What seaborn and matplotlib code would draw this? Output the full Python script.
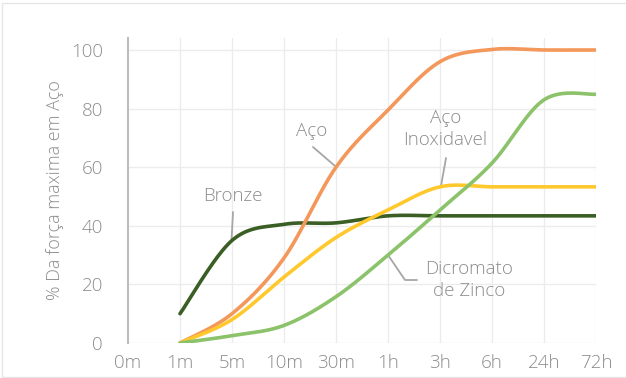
import numpy as np
import pandas as pd
import matplotlib
matplotlib.use("Agg")
import matplotlib.pyplot as plt
import seaborn as sns
from matplotlib.lines import Line2D
from matplotlib.patches import Rectangle

# Time categories on the x axis
tempos = ["0m", "1m", "5m", "10m", "30m", "1h", "3h", "6h", "24h", "72h"]

# % of maximum strength per coating (measured from 1m onward)
bronze = [10, 35, 40.5, 41, 43.4, 43.4, 43.4, 43.4, 43.4]
aco = [0, 10, 29, 60, 79.5, 96, 100.2, 100, 100]
aco_inox = [0, 8, 22.5, 36, 45.4, 53.3, 53.3, 53.3, 53.3]
dicromato = [0, 2.5, 6, 15.8, 30, 45.4, 61.4, 83, 84.9]

series = {
    "Bronze": bronze,
    "Aço": aco,
    "Aço Inoxidavel": aco_inox,
    "Dicromato de Zinco": dicromato,
}
cores = {
    "Bronze": "#3a5e24",
    "Aço": "#f4975a",
    "Aço Inoxidavel": "#ffc92e",
    "Dicromato de Zinco": "#8cc36a",
}


def suavizar(xs, ys, n=40):
    """Bezier smoothing through each point (control offsets of 1/6)."""
    p = np.column_stack([xs, ys]).astype(float)
    ext = np.vstack([p[0], p, p[-1]])
    t = np.linspace(0, 1, n)[:, None]
    out = []
    for i in range(1, len(ext) - 2):
        p0, p1, p2, p3 = ext[i - 1], ext[i], ext[i + 1], ext[i + 2]
        c1 = p1 + (p2 - p0) / 6.0
        c2 = p2 - (p3 - p1) / 6.0
        seg = ((1 - t) ** 3) * p1 + 3 * ((1 - t) ** 2) * t * c1 + 3 * (1 - t) * t ** 2 * c2 + t ** 3 * p2
        out.append(seg if i == 1 else seg[1:])
    return np.vstack(out)


linhas = []
for nome, vals in series.items():
    xs = np.arange(1, 1 + len(vals))
    curva = suavizar(xs, vals)
    linhas.append(pd.DataFrame({"x": curva[:, 0], "y": curva[:, 1], "serie": nome}))
df = pd.concat(linhas, ignore_index=True)

sns.set_theme(style="white")
plt.rcParams["font.family"] = ["Open Sans", "DejaVu Sans"]
plt.rcParams["font.weight"] = "light"

texto = "#8c8c8c"
fig = plt.figure(figsize=(6.26, 3.78), dpi=100)
ax = fig.add_axes([128 / 626, 1 - 343 / 378, (596 - 128) / 626, (343 - 38) / 378])

# Grid
for xi in range(1, len(tempos)):
    ax.axvline(xi, color="#ececec", lw=1.0, zorder=0)
for yi in range(0, 101, 20):
    ax.axhline(yi, color="#ececec", lw=1.0, zorder=0)

sns.lineplot(data=df, x="x", y="y", hue="serie", palette=cores,
             hue_order=list(series.keys()), estimator=None, sort=False,
             lw=2.6, legend=False, ax=ax, zorder=3)
for ln in ax.get_lines():
    ln.set_solid_capstyle("round")

ax.set_xlim(0, len(tempos) - 1)
ax.set_ylim(0, 100 * (343 - 38) / (343 - 50))
ax.set_xticks(range(len(tempos)))
ax.set_xticklabels(tempos, fontweight="light")
ax.set_yticks(range(0, 101, 20))
ax.set_yticklabels([str(v) for v in range(0, 101, 20)], fontweight="light")
ax.tick_params(axis="both", length=0, labelsize=13.5, colors=texto)
ax.tick_params(axis="y", pad=18)
ax.tick_params(axis="x", pad=8)
ax.set_xlabel("")
ax.set_ylabel("% Da força maxima em Aço", color=texto, fontsize=13,
              fontweight="light")
ax.yaxis.set_label_coords(-0.137, 0.5)

for s in ["top", "right", "bottom"]:
    ax.spines[s].set_visible(False)
ax.spines["left"].set_color("#bdbdbd")
ax.spines["left"].set_linewidth(1.5)


def px(x, y):
    """Figure pixel coordinates -> data coordinates."""
    return ax.transData.inverted().transform(fig.transFigure.transform((x / 626, 1 - y / 378)))


def guia(pts):
    d = np.array([px(*p) for p in pts])
    ax.add_line(Line2D(d[:, 0], d[:, 1], color="#a6a6a6", lw=1.3, zorder=2, clip_on=False))


def rotulo(x, y, s):
    ax.text(*px(x, y), s, color=texto, fontsize=13.5, fontweight="light",
            ha="center", va="center", linespacing=1.35, zorder=4)


rotulo(233, 196, "Bronze")
guia([(233, 212), (231.5, 241)])
rotulo(312, 131, "Aço")
guia([(313, 147), (335, 166)])
rotulo(445.5, 129, "Aço\nInoxidavel")
guia([(446, 158), (441, 186)])
rotulo(469, 280, "Dicromato\nde Zinco")
guia([(388, 255), (405, 280), (417, 280)])

# Thin frame around the figure
fig.patches.append(Rectangle((2 / 626, 1.5 / 378), 1.2, 1 - 4.5 / 378,
                             transform=fig.transFigure, fill=False,
                             edgecolor="#e6e6e6", lw=1.0))

fig.savefig("out.png", dpi=100, facecolor="white")
